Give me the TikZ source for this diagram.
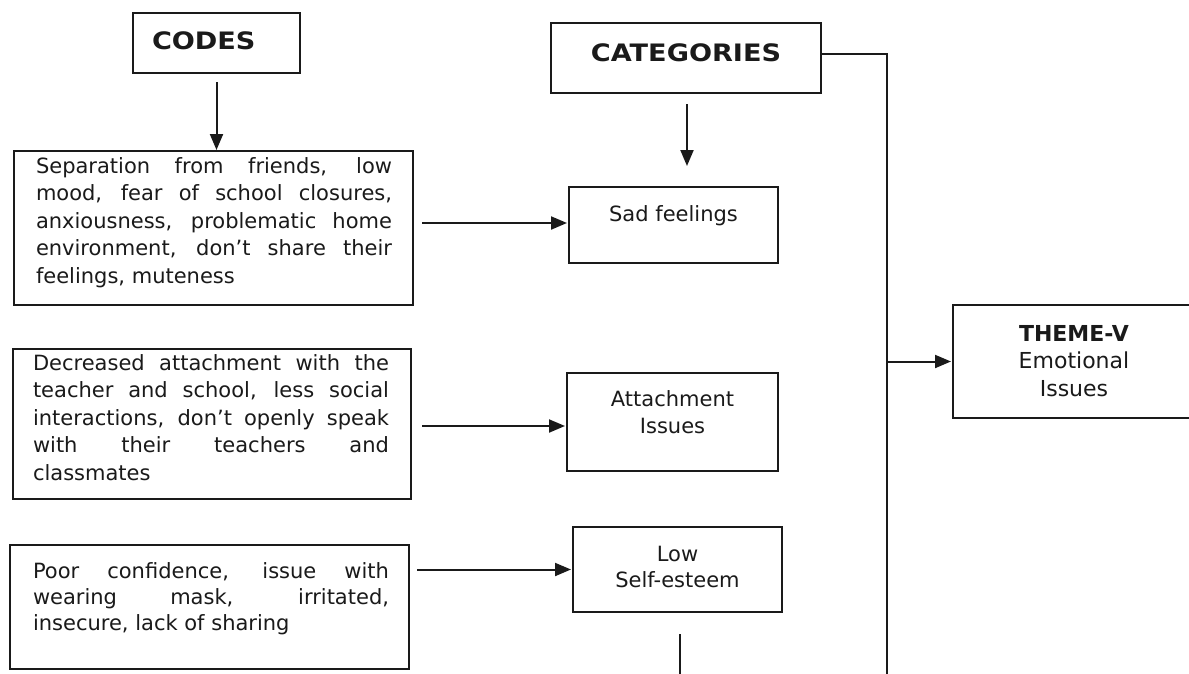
\documentclass[tikz,border=0pt]{standalone}
\usepackage{fontspec}
\setmainfont{DejaVu Sans}
\newfontfamily\hdfont[FakeStretch=1.13]{DejaVu Sans}
\usetikzlibrary{calc,arrows.meta}
\definecolor{ink}{HTML}{1A1A1A}
\newcommand{\tbox}[5]{\hspace*{#1}\parbox[c][#4][t]{#2}{#5}\hspace*{#3}}
\newcommand{\jl}[1]{\makebox[\linewidth][s]{#1}\\}
\tikzset{
  pbox/.style={draw=ink, line width=2pt, inner sep=0pt, anchor=north west, rectangle, text=ink},
  conn/.style={draw=ink, line width=2pt},
  arr/.style={conn, -{Triangle[length=16pt,width=13pt]}}
}
\begin{document}
\begin{tikzpicture}[x=1pt,y=-1pt]
\useasboundingbox (0,0) rectangle (1189,673);
\clip (0,0) rectangle (1189,673);
\fill[white] (0,0) rectangle (1189,673);

% headers
\node[pbox] (codes) at (132,12) {\tbox{19pt}{148pt}{0pt}{60pt}{\hdfont\fontsize{24}{27}\selectfont\bfseries\rule{0pt}{36pt}CODES}};
\node[pbox] (cats) at (550,22) {\tbox{0pt}{270pt}{0pt}{70pt}{\hdfont\fontsize{24}{27}\selectfont\bfseries\centering\rule{0pt}{38pt}CATEGORIES\par}};

% codes
\node[pbox] (code1) at (13,150) {\tbox{22pt}{356pt}{21pt}{154pt}{\fontsize{21}{27.5}\selectfont\rule{0pt}{22pt}%
\jl{Separation from friends, low}%
\jl{mood, fear of school closures,}%
\jl{anxiousness, problematic home}%
\jl{environment, don’t share their}%
feelings, muteness}};
\node[pbox] (code2) at (12,348) {\tbox{20pt}{356pt}{22pt}{150pt}{\fontsize{21}{27.5}\selectfont\rule{0pt}{21pt}%
\jl{Decreased attachment with the}%
\jl{teacher and school, less social}%
\jl{interactions, don’t openly speak}%
\jl{with their teachers and}%
classmates}};
\node[pbox] (code3) at (9,544) {\tbox{23pt}{356pt}{20pt}{124pt}{\fontsize{21}{26}\selectfont\rule{0pt}{33pt}%
\jl{Poor confidence, issue with}%
\jl{wearing mask, irritated,}%
insecure, lack of sharing}};

% categories
\node[pbox] (sad) at (568,186) {\tbox{0pt}{209pt}{0pt}{76pt}{\fontsize{21}{27}\selectfont\centering\rule{0pt}{34pt}Sad feelings\par}};
\node[pbox] (att) at (566,372) {\tbox{0pt}{211pt}{0pt}{98pt}{\fontsize{21}{27}\selectfont\centering\rule{0pt}{33pt}Attachment\\Issues\par}};
\node[pbox] (low) at (572,526) {\tbox{0pt}{209pt}{0pt}{85pt}{\fontsize{21}{26}\selectfont\centering\rule{0pt}{34pt}Low\\Self-esteem\par}};

% theme
\node[pbox] (theme) at (952,304) {\tbox{0pt}{242pt}{0pt}{113pt}{\fontsize{22}{27.5}\selectfont\centering\rule{0pt}{36pt}{\bfseries THEME-V}\\Emotional\\Issues\par}};

% connectors
\coordinate (cd1) at ($(codes.south)+(0,8)$);
\draw[arr] (cd1) -- (cd1 |- code1.north);
\coordinate (ct1) at ($(cats.south)+(1,10)$);
\coordinate (ct2) at ($(cats.south)+(1,72)$);
\draw[arr] (ct1) -- (ct2);

\draw[arr] ($(code1.east |- sad.west)+(8,-2)$) -- ($(sad.west)+(-1,-2)$);
\draw[arr] ($(code2.east |- att.west)+(10,4)$) -- ($(att.west)+(-1,4)$);
\draw[arr] ($(code3.east |- low.west)+(7,0)$) -- ($(low.west)+(-1,0)$);

\coordinate (bt) at ($(cats.east)+(65,-4)$);
\coordinate (bb) at ($(bt)+(0,660)$);
\draw[conn] ($(cats.east)+(0,-4)$) -- (bt) -- (bb);
\draw[arr] (bt |- theme.west) -- ($(theme.west)+(-1,0)$);

\coordinate (l1) at ($(low.south)+(2,21)$);
\coordinate (l2) at ($(low.south)+(2,80)$);
\draw[conn] (l1) -- (l2);
\end{tikzpicture}
\end{document}
